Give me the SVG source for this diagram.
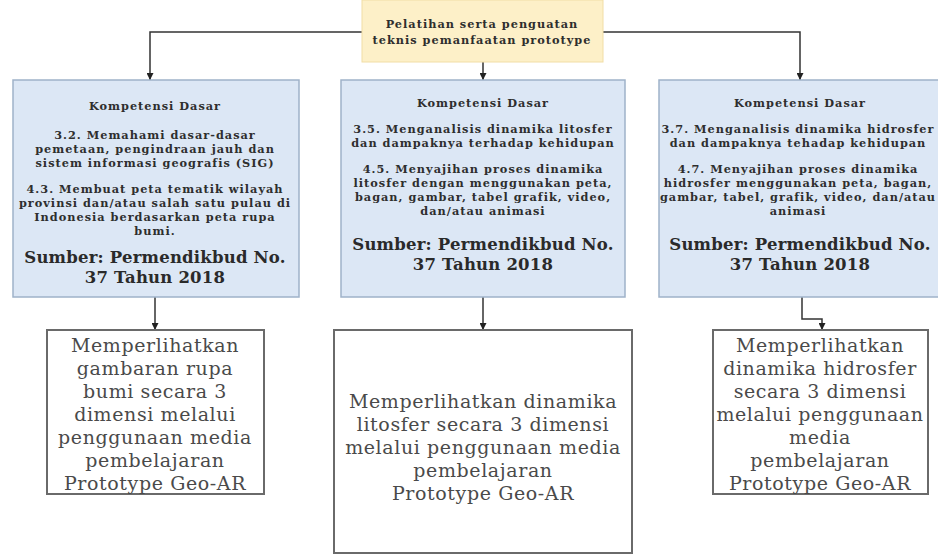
<svg xmlns="http://www.w3.org/2000/svg" width="938" height="554" viewBox="0 0 938 554">
<style>
.kd{font-family:"DejaVu Serif","Liberation Serif",serif;font-weight:bold;font-size:11.3px;letter-spacing:1px;fill:#2e2e2e;text-anchor:middle}
.src{font-family:"DejaVu Serif","Liberation Serif",serif;font-weight:bold;font-size:16.5px;letter-spacing:0.2px;fill:#2a2a2a;text-anchor:middle}
.out{font-family:"DejaVu Serif","Liberation Serif",serif;font-size:19px;letter-spacing:0.6px;fill:#4a4a4a;text-anchor:middle}
.blue{fill:#dce7f5;stroke:#9fb2c9;stroke-width:1.5}
.white{fill:#ffffff;stroke:#6a6a6a;stroke-width:2}
.conn{fill:none;stroke:#333;stroke-width:1.5}
</style>
<defs>
<marker id="ah" viewBox="0 0 10 10" refX="10" refY="5" markerWidth="7" markerHeight="7" orient="auto" markerUnits="userSpaceOnUse">
<path d="M0,0 L10,5 L0,10 z" fill="#222"/>
</marker>
</defs>
<rect width="938" height="554" fill="#ffffff"/>
<g id="connectors">
<polyline class="conn" points="362,32 150,32 150,80" marker-end="url(#ah)"/>
<polyline class="conn" points="603,32 800,32 800,80" marker-end="url(#ah)"/>
<line class="conn" x1="483" y1="62" x2="483" y2="80" marker-end="url(#ah)"/>
<line class="conn" x1="155" y1="297" x2="155" y2="330" marker-end="url(#ah)"/>
<line class="conn" x1="483" y1="297" x2="483" y2="330" marker-end="url(#ah)"/>
<polyline class="conn" points="802,297 802,319 822,319 822,330" marker-end="url(#ah)"/>
</g>
<g id="top">
<rect x="362" y="0" width="241" height="62" fill="#fdf0c8" stroke="#f1dea6" stroke-width="1"/>
<text class="kd" x="482" y="28">Pelatihan serta penguatan</text>
<text class="kd" x="482" y="44">teknis pemanfaatan prototype</text>
</g>
<g id="kd1">
<rect class="blue" x="13" y="80" width="286" height="217"/>
<text class="kd" x="155" y="110">Kompetensi Dasar</text>
<text class="kd" x="155" y="139">3.2. Memahami dasar-dasar</text>
<text class="kd" x="155" y="153">pemetaan, pengindraan jauh dan</text>
<text class="kd" x="155" y="167">sistem informasi geografis (SIG)</text>
<text class="kd" x="155" y="193">4.3. Membuat peta tematik wilayah</text>
<text class="kd" x="155" y="207">provinsi dan/atau salah satu pulau di</text>
<text class="kd" x="155" y="221">Indonesia berdasarkan peta rupa</text>
<text class="kd" x="155" y="235">bumi.</text>
<text class="src" x="155" y="263">Sumber: Permendikbud No.</text>
<text class="src" x="155" y="283">37 Tahun 2018</text>
</g>
<g id="kd2">
<rect class="blue" x="341" y="80" width="284" height="217"/>
<text class="kd" x="483" y="107">Kompetensi Dasar</text>
<text class="kd" x="483" y="133">3.5. Menganalisis dinamika litosfer</text>
<text class="kd" x="483" y="147">dan dampaknya terhadap kehidupan</text>
<text class="kd" x="483" y="173">4.5. Menyajihan proses dinamika</text>
<text class="kd" x="483" y="187">litosfer dengan menggunakan peta,</text>
<text class="kd" x="483" y="201">bagan, gambar, tabel grafik, video,</text>
<text class="kd" x="483" y="215">dan/atau animasi</text>
<text class="src" x="483" y="250">Sumber: Permendikbud No.</text>
<text class="src" x="483" y="270">37 Tahun 2018</text>
</g>
<g id="kd3">
<rect class="blue" x="659" y="80" width="290" height="217"/>
<text class="kd" x="800" y="107">Kompetensi Dasar</text>
<text class="kd" x="798" y="133">3.7. Menganalisis dinamika hidrosfer</text>
<text class="kd" x="798" y="147">dan dampaknya tehadap kehidupan</text>
<text class="kd" x="798" y="173">4.7. Menyajihan proses dinamika</text>
<text class="kd" x="798" y="187">hidrosfer menggunakan peta, bagan,</text>
<text class="kd" x="798" y="201">gambar, tabel, grafik, video, dan/atau</text>
<text class="kd" x="798" y="215">animasi</text>
<text class="src" x="800" y="250">Sumber: Permendikbud No.</text>
<text class="src" x="800" y="270">37 Tahun 2018</text>
</g>
<g id="out1">
<rect class="white" x="47" y="330" width="217" height="164"/>
<text class="out" x="155" y="352">Memperlihatkan</text>
<text class="out" x="155" y="375">gambaran rupa</text>
<text class="out" x="155" y="398">bumi secara 3</text>
<text class="out" x="155" y="421">dimensi melalui</text>
<text class="out" x="155" y="444">penggunaan media</text>
<text class="out" x="155" y="467">pembelajaran</text>
<text class="out" x="155" y="490">Prototype Geo-AR</text>
</g>
<g id="out2">
<rect class="white" x="334" y="330" width="298" height="223"/>
<text class="out" x="483" y="408">Memperlihatkan dinamika</text>
<text class="out" x="483" y="431">litosfer secara 3 dimensi</text>
<text class="out" x="483" y="454">melalui penggunaan media</text>
<text class="out" x="483" y="477">pembelajaran</text>
<text class="out" x="483" y="500">Prototype Geo-AR</text>
</g>
<g id="out3">
<rect class="white" x="713" y="330" width="215" height="164"/>
<text class="out" x="820" y="352">Memperlihatkan</text>
<text class="out" x="820" y="375">dinamika hidrosfer</text>
<text class="out" x="820" y="398">secara 3 dimensi</text>
<text class="out" x="820" y="421">melalui penggunaan</text>
<text class="out" x="820" y="444">media</text>
<text class="out" x="820" y="467">pembelajaran</text>
<text class="out" x="820" y="490">Prototype Geo-AR</text>
</g>
</svg>
